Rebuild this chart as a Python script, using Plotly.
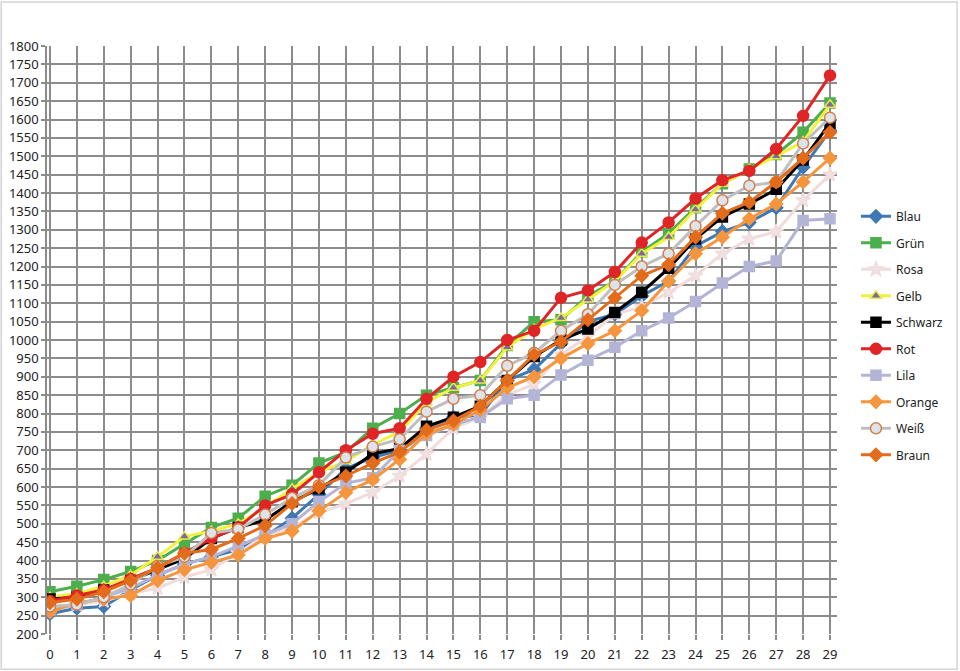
import plotly.graph_objects as go

x_vals = list(range(30))

blau = [255, 270, 275, 320, 360, 390, 410, 430, 465, 515, 580, 650, 680, 700, 760,
        790, 795, 890, 920, 990, 1050, 1070, 1120, 1160, 1255, 1295, 1320, 1360, 1470, 1570]
gruen = [315, 330, 348, 370, 400, 445, 490, 515, 575, 605, 665, 695, 760, 800, 850,
         870, 890, 985, 1050, 1055, 1120, 1160, 1240, 1290, 1360, 1425, 1465, 1505, 1565, 1645]
rosa = [270, 280, 290, 310, 325, 355, 375, 420, 470, 490, 530, 555, 585, 630, 690,
        760, 790, 850, 880, 960, 1010, 1070, 1090, 1130, 1175, 1235, 1275, 1295, 1380, 1450]
gelb = [300, 310, 330, 360, 410, 465, 480, 500, 545, 595, 640, 670, 715, 750, 830,
        870, 890, 980, 1030, 1060, 1110, 1160, 1235, 1280, 1355, 1425, 1465, 1500, 1540, 1640]
schwarz = [295, 300, 320, 345, 375, 405, 460, 490, 510, 560, 595, 640, 690, 705, 765,
           790, 820, 890, 955, 1000, 1030, 1075, 1130, 1195, 1275, 1335, 1370, 1410, 1490, 1590]
rot = [290, 305, 320, 350, 380, 420, 460, 490, 550, 580, 640, 700, 745, 760, 840,
       900, 940, 1000, 1025, 1115, 1135, 1185, 1265, 1320, 1385, 1435, 1460, 1520, 1610, 1720]
lila = [265, 280, 300, 325, 360, 390, 410, 440, 470, 500, 560, 610, 625, 700, 740,
        770, 790, 840, 850, 905, 945, 980, 1025, 1060, 1105, 1155, 1200, 1215, 1325, 1330]
orange = [260, 285, 295, 305, 345, 375, 395, 415, 460, 480, 535, 585, 620, 675, 745,
          770, 810, 870, 900, 950, 990, 1025, 1080, 1160, 1235, 1280, 1330, 1370, 1430, 1495]
weiss = [275, 280, 300, 335, 385, 410, 475, 485, 525, 570, 605, 680, 710, 730, 805,
         840, 850, 930, 965, 1025, 1070, 1150, 1200, 1235, 1310, 1380, 1420, 1430, 1535, 1605]
braun = [285, 295, 315, 345, 380, 420, 430, 460, 495, 555, 600, 630, 665, 695, 755,
         780, 820, 890, 960, 995, 1055, 1115, 1175, 1205, 1280, 1345, 1375, 1430, 1495, 1565]

# name, values, line colour, marker symbol, marker fill, marker edge, marker size
series = [
    ("Blau", blau, "#3e78b5", "diamond", "#3e78b5", "#3e78b5", 10),
    ("Grün", gruen, "#4cae4c", "square", "#4cae4c", "#4cae4c", 10),
    ("Rosa", rosa, "#f0dcdc", "star", "#f0e2e2", "#f0dcdc", 11),
    ("Gelb", gelb, "#f2f23c", "triangle-up", "#7d6a9c", "#e8e850", 10),
    ("Schwarz", schwarz, "#000000", "square", "#000000", "#000000", 10),
    ("Rot", rot, "#e02526", "circle", "#e02526", "#e02526", 11),
    ("Lila", lila, "#b4b4d6", "square", "#b4b4d6", "#b4b4d6", 10),
    ("Orange", orange, "#f5963f", "diamond", "#f5963f", "#f5963f", 10),
    ("Weiß", weiss, "#bfbfbf", "circle", "#dde3e8", "#d08050", 11),
    ("Braun", braun, "#e36c1c", "diamond", "#e36c1c", "#e36c1c", 10),
]

fig = go.Figure()
for name, vals, lcol, sym, mfill, medge, msize in series:
    fig.add_trace(go.Scatter(
        x=x_vals, y=vals, name=name, mode='lines+markers',
        legendgroup=name,
        line=dict(color=lcol, width=3),
        marker=dict(symbol=sym, size=msize, color=mfill,
                    line=dict(color=medge, width=1.5))))

grid_col = '#8c8c8c'
fig.update_layout(
    width=960, height=671,
    margin=dict(l=47, r=120, t=46, b=37),
    paper_bgcolor='white', plot_bgcolor='white',
    font=dict(family='Noto Sans, Liberation Sans, sans-serif', size=13, color='#222222'),
    showlegend=True,
    legend=dict(x=1.024, y=0.735, xanchor='left', yanchor='top',
                tracegroupgap=7.5, font=dict(size=12, color='#222222'),
                bgcolor='rgba(0,0,0,0)'),
    xaxis=dict(range=[-0.11, 29.26], tickmode='array', tickvals=x_vals,
               automargin=False,
               showgrid=True, gridcolor=grid_col, gridwidth=1.5,
               zeroline=False, showline=False, ticklabelstandoff=3,
               ticks='outside', ticklen=5, tickcolor=grid_col, tickwidth=1.5),
    yaxis=dict(range=[200, 1800], dtick=50, tick0=200, automargin=False,
               showgrid=True, gridcolor=grid_col, gridwidth=1.5,
               zeroline=False, showline=True, linecolor=grid_col, linewidth=1.5,
               ticks='outside', ticklen=4, tickcolor=grid_col, tickwidth=1.5),
)

# light chart frame around the whole picture
fig.add_shape(type='rect', xref='paper', yref='paper',
              x0=-0.058, x1=1.152, y0=-0.06, y1=1.075,
              line=dict(color='#d4d4d4', width=1.5), layer='below')

# drop the browser's default page margin so the chart sits at the top-left corner
fig.write_html("out.html", config={'displayModeBar': False},
               post_script="document.body.style.margin='0';")
